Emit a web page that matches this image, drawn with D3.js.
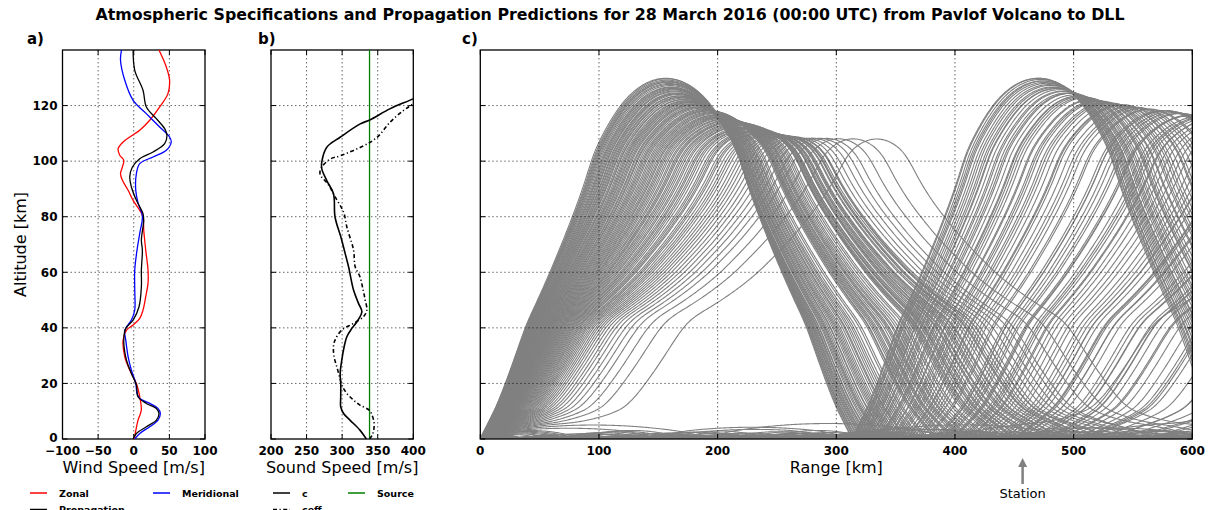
<!DOCTYPE html>
<html>
<head>
<meta charset="utf-8">
<script src="https://cdn.jsdelivr.net/npm/d3@7"></script>
<style>
  body { margin: 0; background: #fff; }
  svg { display: block; font-family: "DejaVu Sans", sans-serif; }
</style>
</head>
<body>
<svg id="fig" width="1210" height="510"></svg>
<script>
// ---------------- atmospheric profiles ----------------
// Wind components [m/s] versus altitude [km]
const zonalAlt = [0, 3.2, 6.8, 10.4, 15.2, 20, 24.8, 29.6, 35.6, 39.2, 41, 43.4, 46.4, 51.2, 56, 60.8, 68, 75.2, 79.9, 82.3, 85.9, 89.5, 93.1, 95.5, 97.9, 100.3, 102.1, 104.5, 106.9, 108.7, 111.1, 114.7, 119.5, 124.3, 129.1, 133.9, 140];
const zonalSpd = [0.8, 3, 6, 10.6, 8.4, 3.7, -5.6, -12.6, -14.9, -10.2, -0.9, 8.4, 13, 16.8, 20, 20, 16.8, 14, 13, 8.4, -0.9, -7.9, -15.9, -18.6, -15.9, -14, -19.6, -21.9, -14.9, -5.6, 8.4, 22.4, 36.4, 48, 50.3, 45.7, 35.4];

const meridAlt = [0, 2, 4.4, 6.8, 9.2, 11, 12.8, 14.6, 16.4, 20, 24.8, 29.6, 35.6, 39.2, 42.8, 46.4, 53.6, 60.8, 68, 74, 80.2, 85, 89.5, 95.5, 99.1, 101.5, 103.9, 106.9, 108.7, 112.3, 117.1, 121.9, 129.1, 136.3, 140];
const meridSpd = [1.4, 8.4, 22.4, 34, 37.3, 34, 22.4, 8.4, 4.6, 2.8, -3.3, -7.9, -11.2, -12.6, -3.3, 1.4, 1.4, 1.4, 4.6, 8.4, 12.1, 6, 2.8, 3.7, 8.4, 27.1, 45.7, 52.6, 50.3, 36.4, 17.7, -0.9, -12.6, -18.6, -17.2];

const propAlt = [0, 2, 4.4, 6.8, 9.2, 11, 12.8, 15.2, 19.4, 23.6, 28.4, 35.6, 39.8, 42.8, 47.6, 54.8, 60.8, 68, 71.6, 78.7, 81.1, 85.9, 90.7, 94.3, 97.9, 100.9, 103.3, 106.3, 109.3, 111.7, 115.3, 119.5, 125.5, 132.7, 140];
const propSpd = [-0.9, 3.7, 17.7, 31.7, 35.4, 31.7, 17.7, 6, 3.7, -3.3, -10.2, -14, -11.2, -0.9, 7.4, 10.7, 10.7, 12.1, 10.7, 14, 13, 3.7, -3.3, -5.6, -1.9, 8.4, 27.1, 43.4, 46.6, 43.4, 31.7, 17.7, 13, 1.4, -0.9];

// Adiabatic sound speed c [m/s]
const soundAlt = [0, 3.2, 6.8, 9.2, 11.6, 15.2, 20, 23.6, 28.4, 33.2, 36.8, 39.8, 42.2, 45.8, 48.8, 53.6, 62, 66.8, 72, 79.9, 88.3, 93, 97.2, 99.7, 105, 108.6, 113.4, 114.9, 118.9, 122.5, 125];
const soundC = [334, 325, 311, 302, 298, 298, 298, 297.2, 299.5, 302.8, 306.6, 313.6, 320.7, 327.7, 323, 316, 309, 304.2, 299, 290, 287.8, 278.4, 271.4, 271.4, 278.4, 297.2, 325.4, 339.4, 367.6, 400.4, 420];

// Effective sound speed ceff along the propagation path [m/s]
const ceffAlt = [0, 1.5, 3.2, 5.6, 8.6, 10.4, 12.2, 14, 16.4, 19.4, 21.8, 26, 29.6, 33.2, 35.6, 39.2, 41.6, 44, 46.4, 50, 53.6, 58.4, 62, 68, 76.3, 81.7, 87.1, 91.5, 95.3, 97.7, 100.7, 102, 105.5, 108.5, 114.1, 118.3, 120.7, 125, 130, 135, 140];
const ceffC = [338.5, 342.5, 344.3, 345, 342, 338, 325, 316, 306.6, 299.5, 297, 292.5, 288.7, 287.8, 290, 299.5, 316, 330, 334.7, 332.4, 329.5, 325, 318.3, 316, 306.6, 301.9, 290.1, 280.7, 269, 271, 283, 298, 330, 348.8, 367.6, 386.4, 400.4, 426, 455, 492, 532];

// ceff at the source
const sourceC = 338.5;

// Ray fan launched from the ground at the source
const inclMin = 0.5, inclMax = 41.9, inclStep = 0.3;   // degrees
const stationRange = 457;  // km

// Axis ticks
const windTicks = [-100, -50, 0, 50, 100];
const soundTicks = [200, 250, 300, 350, 400];
const altTicks = [0, 20, 40, 60, 80, 100, 120];
const rangeTicks = [0, 100, 200, 300, 400, 500, 600];

// ---------------- layout ----------------
const svg = d3.select("#fig");
svg.append("rect").attr("width", 1210).attr("height", 510).attr("fill", "#fff");

const plotTop = 50, plotBottom = 439;
const panels = {
  a: { x0: 62.5, x1: 205, dom: [-100, 100], ticks: windTicks },
  b: { x0: 271, x1: 413.3, dom: [200, 400], ticks: soundTicks },
  c: { x0: 480.3, x1: 1192.3, dom: [0, 600], ticks: rangeTicks }
};
const y = d3.scaleLinear().domain([0, 140]).range([plotBottom, plotTop]);
for (const k in panels) {
  const p = panels[k];
  p.x = d3.scaleLinear().domain(p.dom).range([p.x0, p.x1]);
}

const defs = svg.append("defs");
for (const k in panels) {
  const p = panels[k];
  defs.append("clipPath").attr("id", "clip-" + k)
    .append("rect").attr("x", p.x0).attr("y", plotTop)
    .attr("width", p.x1 - p.x0).attr("height", plotBottom - plotTop);
}

// ---------------- ray tracing through the ceff profile ----------------
function makeMedium(alt, c) {
  const n = alt.length;
  const slope = alt.slice(0, -1).map((z, i) => (c[i + 1] - c[i]) / (alt[i + 1] - z));
  const seg = z => Math.max(0, Math.min(n - 2, d3.bisectRight(alt, z) - 1));
  return {
    c: z => { const i = seg(z); return c[i] + slope[i] * (z - alt[i]); },
    g: z => slope[seg(z)]
  };
}

function traceRay(med, inclDeg, maxRange, maxAlt) {
  let x = 0, z = 0, th = inclDeg * Math.PI / 180;
  const h = 0.25;
  const pts = [[0, 0]];
  const f = (zz, t) => [Math.cos(t), Math.sin(t), -med.g(zz) / med.c(zz) * Math.cos(t)];
  for (let k = 0; k < 60000; k++) {
    const k1 = f(z, th);
    const k2 = f(z + h / 2 * k1[1], th + h / 2 * k1[2]);
    const k3 = f(z + h / 2 * k2[1], th + h / 2 * k2[2]);
    const k4 = f(z + h * k3[1], th + h * k3[2]);
    x += h / 6 * (k1[0] + 2 * k2[0] + 2 * k3[0] + k4[0]);
    z += h / 6 * (k1[1] + 2 * k2[1] + 2 * k3[1] + k4[1]);
    th += h / 6 * (k1[2] + 2 * k2[2] + 2 * k3[2] + k4[2]);
    if (z < 0) { z = -z; th = -th; pts.push([x, 0]); }
    if (k % 4 === 3) pts.push([x, z]);
    if (x > maxRange || z > maxAlt) { pts.push([x, z]); break; }
  }
  return pts;
}

const medium = makeMedium(ceffAlt, ceffC);
const incl = d3.range(inclMin, inclMax + 1e-9, inclStep);
const rays = incl.map(a => traceRay(medium, a, 605, 141));

// ---------------- drawing helpers ----------------
function frame(p, yLabels) {
  const g = svg.append("g");
  p.ticks.slice(1, -1).forEach(t => {
    g.append("line").attr("x1", p.x(t)).attr("x2", p.x(t)).attr("y1", plotTop).attr("y2", plotBottom)
      .attr("stroke", "#000").attr("stroke-width", 0.6).attr("stroke-dasharray", "1.5,2.5");
  });
  altTicks.slice(1).forEach(t => {
    g.append("line").attr("x1", p.x0).attr("x2", p.x1).attr("y1", y(t)).attr("y2", y(t))
      .attr("stroke", "#000").attr("stroke-width", 0.6).attr("stroke-dasharray", "1.5,2.5");
  });
  p.ticks.forEach(t => {
    g.append("line").attr("x1", p.x(t)).attr("x2", p.x(t)).attr("y1", plotBottom).attr("y2", plotBottom - 5).attr("stroke", "#000");
    g.append("line").attr("x1", p.x(t)).attr("x2", p.x(t)).attr("y1", plotTop).attr("y2", plotTop + 5).attr("stroke", "#000");
  });
  altTicks.forEach(t => {
    g.append("line").attr("x1", p.x0).attr("x2", p.x0 + 5).attr("y1", y(t)).attr("y2", y(t)).attr("stroke", "#000");
    g.append("line").attr("x1", p.x1).attr("x2", p.x1 - 5).attr("y1", y(t)).attr("y2", y(t)).attr("stroke", "#000");
  });
  g.append("rect").attr("x", p.x0).attr("y", plotTop).attr("width", p.x1 - p.x0).attr("height", plotBottom - plotTop)
    .attr("fill", "none").attr("stroke", "#000").attr("stroke-width", 1.3);
  p.ticks.forEach(t => {
    g.append("text").attr("x", p.x(t)).attr("y", plotBottom + 16).attr("text-anchor", "middle")
      .attr("font-size", 12).attr("font-weight", "bold")
      .text(t < 0 ? "\u2212" + Math.abs(t) : t);
  });
  if (yLabels) {
    altTicks.forEach(t => {
      g.append("text").attr("x", p.x0 - 5).attr("y", y(t) - (t === 0 ? 1.5 : 0)).attr("dy", "0.36em").attr("text-anchor", "end")
        .attr("font-size", 12).attr("font-weight", "bold").text(t);
    });
  }
}

const profLine = (xs) => d3.line()
  .x(d => xs(d[0])).y(d => y(d[1]))
  .curve(d3.curveCatmullRom.alpha(0.5));

function drawProfile(panel, vals, alts, color, width, dash) {
  const pts = vals.map((v, i) => [v, alts[i]]);
  svg.append("path").attr("clip-path", "url(#clip-" + panel + ")")
    .attr("d", profLine(panels[panel].x)(pts))
    .attr("fill", "none").attr("stroke", color).attr("stroke-width", width)
    .attr("stroke-dasharray", dash || null);
}

// ---------------- panel c: rays ----------------
const pc = panels.c;
const rayLine = d3.line().x(d => pc.x(d[0])).y(d => y(d[1]));
svg.append("g").attr("clip-path", "url(#clip-c)")
  .selectAll("path").data(rays).join("path")
  .attr("d", rayLine)
  .attr("fill", "none").attr("stroke", "#808080").attr("stroke-width", 1.1);

frame(panels.a, true);
frame(panels.b, false);
frame(panels.c, false);

// ---------------- panel a: winds ----------------
drawProfile("a", zonalSpd, zonalAlt, "#ff0000", 1.3);
drawProfile("a", meridSpd, meridAlt, "#0000ff", 1.3);
drawProfile("a", propSpd, propAlt, "#000000", 1.3);

// ---------------- panel b: sound speeds ----------------
svg.append("line").attr("x1", panels.b.x(sourceC)).attr("x2", panels.b.x(sourceC))
  .attr("y1", plotTop).attr("y2", plotBottom).attr("stroke", "#008000").attr("stroke-width", 1.3);
drawProfile("b", soundC, soundAlt, "#000", 1.6);
drawProfile("b", ceffC, ceffAlt, "#000", 1.6, "4,2.5,1.2,2.5");

// ---------------- text ----------------
const title = svg.append("text").attr("x", 610).attr("y", 20).attr("text-anchor", "middle")
  .attr("font-weight", "bold").attr("font-size", 14)
  .text("Atmospheric Specifications and Propagation Predictions for 28 March 2016 (00:00 UTC) from Pavlof Volcano to DLL");
const tl = title.node().getComputedTextLength();
title.attr("font-size", 14 * 1030 / tl);

[["a)", 27], ["b)", 258], ["c)", 462]].forEach(([t, x]) => {
  svg.append("text").attr("x", x).attr("y", 44).attr("font-size", 15).attr("font-weight", "bold").text(t);
});

svg.append("text").attr("transform", `translate(26,${(plotTop + plotBottom) / 2}) rotate(-90)`)
  .attr("text-anchor", "middle").attr("font-size", 16).text("Altitude [km]");
svg.append("text").attr("x", (panels.a.x0 + panels.a.x1) / 2).attr("y", 473).attr("text-anchor", "middle")
  .attr("font-size", 16).text("Wind Speed [m/s]");
svg.append("text").attr("x", (panels.b.x0 + panels.b.x1) / 2).attr("y", 473).attr("text-anchor", "middle")
  .attr("font-size", 16).text("Sound Speed [m/s]");
svg.append("text").attr("x", (pc.x0 + pc.x1) / 2).attr("y", 473).attr("text-anchor", "middle")
  .attr("font-size", 16).text("Range [km]");

// station marker
const sx = pc.x(stationRange);
svg.append("line").attr("x1", sx).attr("x2", sx).attr("y1", 466).attr("y2", 484)
  .attr("stroke", "#808080").attr("stroke-width", 2.5);
svg.append("path").attr("d", `M${sx},458 L${sx - 4.5},467 L${sx + 4.5},467 Z`).attr("fill", "#808080");
svg.append("text").attr("x", sx).attr("y", 498).attr("text-anchor", "middle").attr("font-size", 13).text("Station");

// legends
const legendItems = [
  { x: 30, y: 493, color: "#ff0000", label: "Zonal" },
  { x: 153, y: 493, color: "#0000ff", label: "Meridional" },
  { x: 30, y: 509.5, color: "#000", label: "Propagation" },
  { x: 273, y: 493, color: "#000", label: "c" },
  { x: 348, y: 493, color: "#008000", label: "Source" },
  { x: 273, y: 509.5, color: "#000", label: "ceff", dash: "4,2.5,1.2,2.5" }
];
legendItems.forEach(d => {
  svg.append("line").attr("x1", d.x).attr("x2", d.x + 17).attr("y1", d.y).attr("y2", d.y)
    .attr("stroke", d.color).attr("stroke-width", 1.5).attr("stroke-dasharray", d.dash || null);
  svg.append("text").attr("x", d.x + 29).attr("y", d.y + 3.5).attr("font-size", 9.5)
    .attr("font-weight", "bold").text(d.label);
});
</script>
</body>
</html>
